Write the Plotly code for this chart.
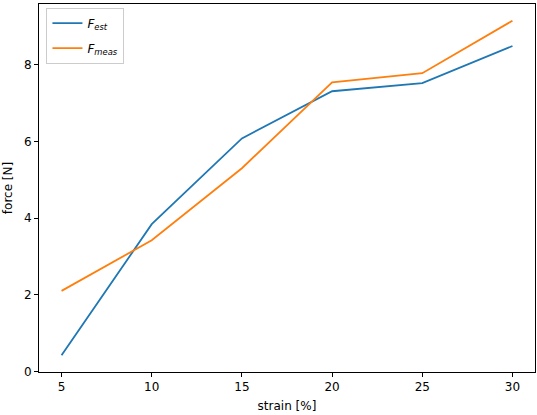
import plotly.graph_objects as go

# strain values [%]
strain = [5, 10, 15, 20, 25, 30]
# estimated and measured force [N]
force_est = [0.42, 3.84, 6.08, 7.31, 7.52, 8.49]
force_meas = [2.10, 3.42, 5.30, 7.54, 7.78, 9.15]

x_ticks = [5, 10, 15, 20, 25, 30]
y_ticks = [0, 2, 4, 6, 8]

font = dict(family='DejaVu Sans, sans-serif', size=12, color='black')

fig = go.Figure()
fig.add_trace(go.Scatter(
	x=strain, y=force_est, mode='lines',
	line=dict(color='#1f77b4', width=1.8),
	name='<i>F<sub>est</sub></i>',
	legendgroup='est'
))
fig.add_trace(go.Scatter(
	x=strain, y=force_meas, mode='lines',
	line=dict(color='#ff7f0e', width=1.8),
	name='<i>F<sub>meas</sub></i>',
	legendgroup='meas'
))

axis_common = dict(
	showgrid=False,
	zeroline=False,
	showline=True,
	linecolor='black',
	linewidth=1,
	mirror=True,
	ticks='outside',
	ticklen=4,
	tickwidth=1,
	tickcolor='black',
	tickfont=font,
)

fig.update_layout(
	width=537,
	height=415,
	autosize=False,
	plot_bgcolor='white',
	paper_bgcolor='white',
	font=font,
	margin=dict(l=39, r=2, t=4, b=43),
	xaxis=dict(
		range=[3.75, 31.25],
		tickvals=x_ticks,
		title=dict(text='strain [%]', font=font, standoff=8),
		**axis_common
	),
	yaxis=dict(
		range=[-0.017, 9.587],
		tickvals=y_ticks,
		title=dict(text='force [N]', font=font, standoff=8),
		**axis_common
	),
	legend=dict(
		x=0.015, y=0.99,
		xanchor='left', yanchor='top',
		bgcolor='rgba(255,255,255,0.8)',
		bordercolor='#cccccc',
		borderwidth=1,
		font=font,
		itemwidth=30,
		tracegroupgap=6,
	),
)

# drop the default page margin so the figure sits at the window's corner
fig.write_html(
	"out.html",
	config={'displayModeBar': False},
	post_script="document.body.style.margin='0';"
)
